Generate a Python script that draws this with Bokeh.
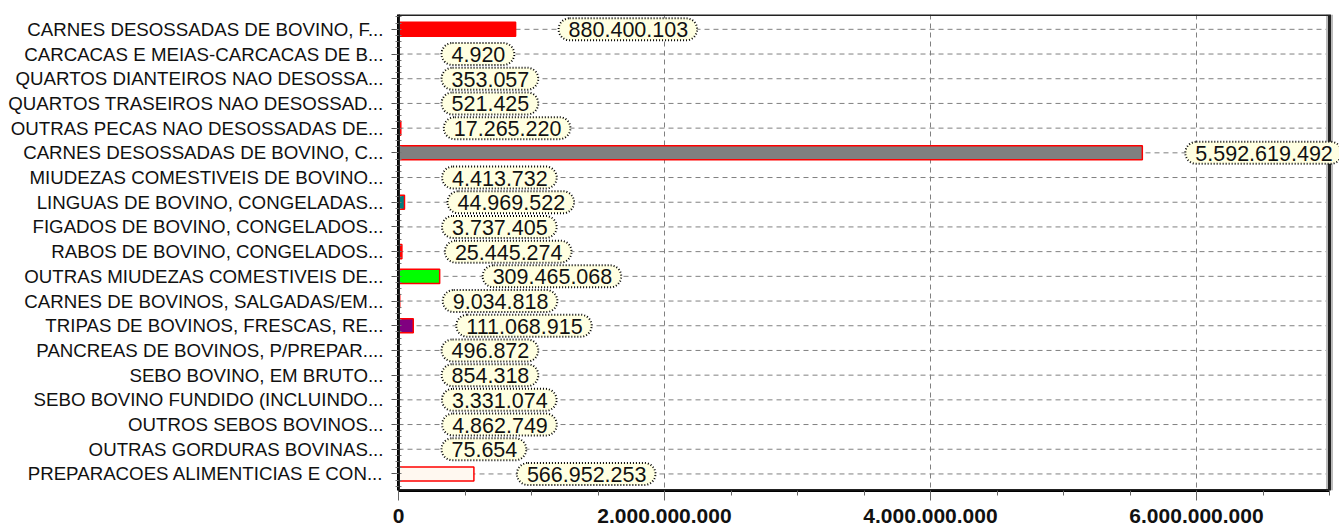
from bokeh.plotting import figure
from bokeh.models import Range1d, FixedTicker, Label, ColumnDataSource, BoxAnnotation
from bokeh.embed import file_html
from bokeh.resources import INLINE

categories = [
    "CARNES DESOSSADAS DE BOVINO, F...",
    "CARCACAS E MEIAS-CARCACAS DE B...",
    "QUARTOS DIANTEIROS NAO DESOSSA...",
    "QUARTOS TRASEIROS NAO DESOSSAD...",
    "OUTRAS PECAS NAO DESOSSADAS DE...",
    "CARNES DESOSSADAS DE BOVINO, C...",
    "MIUDEZAS COMESTIVEIS DE BOVINO...",
    "LINGUAS DE BOVINO, CONGELADAS...",
    "FIGADOS DE BOVINO, CONGELADOS...",
    "RABOS DE BOVINO, CONGELADOS...",
    "OUTRAS MIUDEZAS COMESTIVEIS DE...",
    "CARNES DE BOVINOS, SALGADAS/EM...",
    "TRIPAS DE BOVINOS, FRESCAS, RE...",
    "PANCREAS DE BOVINOS, P/PREPAR....",
    "SEBO BOVINO, EM BRUTO...",
    "SEBO BOVINO FUNDIDO (INCLUINDO...",
    "OUTROS SEBOS BOVINOS...",
    "OUTRAS GORDURAS BOVINAS...",
    "PREPARACOES ALIMENTICIAS E CON...",
]
values = [
    880400103, 4920, 353057, 521425, 17265220, 5592619492, 4413732,
    44969522, 3737405, 25445274, 309465068, 9034818, 111068915,
    496872, 854318, 3331074, 4862749, 75654, 566952253,
]
bar_colors = [
    "#ff0000", "#0000ff", "#ffff00", "#00ffff", "#ff00ff", "#808080",
    "#800000", "#008080", "#000080", "#ff0000", "#00ff00", "#808000",
    "#800080", "#c0c0c0", "#008000", "#ff8000", "#0080ff", "#804000",
    "#fff8f0",
]
x_ticks = [0, 2000000000, 4000000000, 6000000000]
x_max = 7000000000


def br(v):
    return f"{int(v):,}".replace(",", ".")


ys = list(range(len(categories)))
src = ColumnDataSource(dict(y=ys, v=values, fill=bar_colors))

# frame runs to the canvas edge so the last callout is not clipped;
# the visible plot border is drawn at x_max
frame_px, inner_px = 941, 931
x_end = x_max * frame_px / inner_px
p = figure(width=1339, height=529, output_backend="svg", toolbar_location=None,
           x_range=Range1d(0, x_end),
           y_range=Range1d(18.67, -0.6),
           min_border_left=398, min_border_right=0, min_border_top=14,
           min_border_bottom=39)
p.background_fill_color = "white"
p.border_fill_color = "white"
p.outline_line_color = None

# horizontal category gridlines, limited to the visible plot area
p.ygrid.visible = False
p.segment(x0=[0] * len(ys), x1=[x_max] * len(ys), y0=ys, y1=ys,
          line_color="#808080", line_dash="5 4", line_width=1)

p.hbar(y="y", left=0, right="v", height=0.57, fill_color="fill",
       line_color="#ff0000", line_width=1.5, source=src)

# y axis
n = len(categories)
p.yaxis.ticker = FixedTicker(ticks=ys,
                             minor_ticks=[k / 4 - 0.5 for k in range(4 * n + 1)])
p.yaxis.major_label_overrides = {i: c for i, c in zip(ys, categories)}
p.yaxis.major_label_text_font = "Liberation Sans"
p.yaxis.major_label_text_font_size = "18.7px"
p.yaxis.major_label_text_color = "#111111"
p.yaxis.major_label_standoff = 8
p.yaxis.axis_line_width = 3
p.yaxis.axis_line_color = "black"
p.yaxis.major_tick_out = 7
p.yaxis.major_tick_in = 0
p.yaxis.major_tick_line_color = "#555555"
p.yaxis.minor_tick_out = 3
p.yaxis.minor_tick_in = 3
p.yaxis.minor_tick_line_color = "#777777"

# x axis
p.xaxis.bounds = (0, x_max)
p.xaxis.ticker = FixedTicker(ticks=x_ticks,
                             minor_ticks=[k * 500000000 for k in range(15)])
p.xaxis.major_label_overrides = {t: br(t) for t in x_ticks}
p.xaxis.major_label_text_font = "Liberation Sans"
p.xaxis.major_label_text_font_size = "21px"
p.xaxis.major_label_text_font_style = "bold"
p.xaxis.major_label_text_color = "#111111"
p.xaxis.major_label_standoff = 8
p.xaxis.axis_line_width = 3
p.xaxis.axis_line_color = "black"
p.xaxis.major_tick_out = 10
p.xaxis.major_tick_in = 0
p.xaxis.major_tick_line_color = "#666666"
p.xaxis.minor_tick_out = 5
p.xaxis.minor_tick_in = 0
p.xaxis.minor_tick_line_color = "#666666"

# vertical gridlines
p.xgrid.ticker = FixedTicker(ticks=x_ticks)
p.xgrid.grid_line_color = "#808080"
p.xgrid.grid_line_dash = "5 4"
p.xgrid.grid_line_width = 1

# plot border with a soft grey shadow on the right
p.add_layout(BoxAnnotation(left=x_max, right=x_max, top=-0.6, bottom=18.67,
                           fill_alpha=0, line_color="#bbbbbb", line_width=7,
                           line_alpha=1.0, level="annotation"))
p.add_layout(BoxAnnotation(left=0, right=x_max, top=-0.6, bottom=18.67,
                           fill_alpha=0, line_color="#222222", line_width=3,
                           line_alpha=1.0, level="annotation"))

# value callouts
for y, v in zip(ys, values):
    p.add_layout(Label(
        x=v, y=y, x_offset=43, text=br(v),
        text_align="left", text_baseline="middle",
        text_font="Liberation Sans", text_font_size="21.5px",
        text_color="#111111",
        background_fill_color="#ffffe1",
        border_line_color="black", border_line_dash="1 2",
        border_line_width=2, border_radius=11,
        padding=dict(left=10, right=9, top=4, bottom=3),
    ))

open("out.html", "w").write(file_html(p, INLINE))
